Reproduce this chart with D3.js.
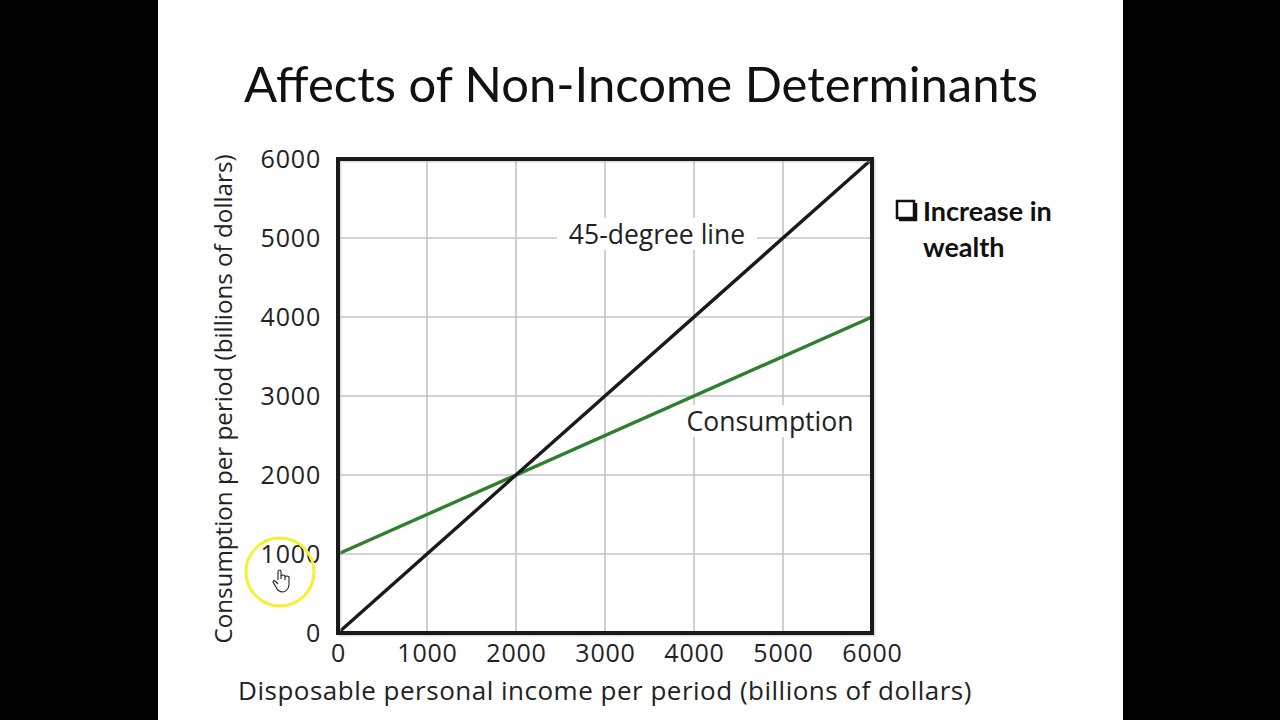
<!DOCTYPE html>
<html>
<head>
<meta charset="utf-8">
<script src="https://cdn.jsdelivr.net/npm/d3@7"></script>
<style>
  html, body { margin: 0; padding: 0; background: #000; }
  svg { display: block; }
</style>
</head>
<body>
<svg id="slide"></svg>
<script>
// data
var titleText = "Affects of Non-Income Determinants";
var tickValues = [0, 1000, 2000, 3000, 4000, 5000, 6000];
var incomeX = [0, 6000];
var line45 = [0, 6000];
var consumption = [1000, 4000];
var bulletLines = ["Increase in", "wealth"];

var width = 1280, height = 720;
var svg = d3.select("#slide").attr("width", width).attr("height", height);

// slide background
svg.append("rect").attr("x", 0).attr("y", 0).attr("width", width).attr("height", height).attr("fill", "#000");
svg.append("rect").attr("x", 158).attr("y", 0).attr("width", 965).attr("height", height).attr("fill", "#fff");

// title
svg.append("text")
    .attr("x", 641).attr("y", 102)
    .attr("text-anchor", "middle")
    .attr("font-family", "Lato, 'Open Sans', sans-serif")
    .attr("font-size", 49)
    .attr("fill", "#111")
    .text(titleText);

// plot area
var pLeft = 338, pRight = 872, pTop = 159, pBottom = 633;
var xScale = d3.scaleLinear().domain([0, 6000]).range([pLeft, pRight]);
var yScale = d3.scaleLinear().domain([0, 6000]).range([pBottom, pTop]);

var chart = svg.append("g");

// grid
chart.append("g").selectAll("line").data(tickValues.slice(1, -1)).enter()
    .append("line")
    .attr("x1", d => xScale(d)).attr("x2", d => xScale(d))
    .attr("y1", pTop).attr("y2", pBottom)
    .attr("stroke", "#c4c4c4").attr("stroke-width", 1.6);
chart.append("g").selectAll("line").data(tickValues.slice(1, -1)).enter()
    .append("line")
    .attr("y1", d => yScale(d)).attr("y2", d => yScale(d))
    .attr("x1", pLeft).attr("x2", pRight)
    .attr("stroke", "#c4c4c4").attr("stroke-width", 1.6);

// lines
var line = d3.line()
    .x((d, i) => xScale(incomeX[i]))
    .y(d => yScale(d));

chart.append("path").datum(consumption)
    .attr("d", line).attr("fill", "none")
    .attr("stroke", "#2f7f2f").attr("stroke-width", 3.4);
chart.append("path").datum(line45)
    .attr("d", line).attr("fill", "none")
    .attr("stroke", "#1a1a1a").attr("stroke-width", 3.4);

// frame with soft shadow
chart.append("rect")
    .attr("x", pLeft + 2).attr("y", pTop + 2)
    .attr("width", pRight - pLeft).attr("height", pBottom - pTop)
    .attr("fill", "none").attr("stroke", "#bbb").attr("stroke-width", 3).attr("opacity", 0.5);
chart.append("rect")
    .attr("x", pLeft).attr("y", pTop)
    .attr("width", pRight - pLeft).attr("height", pBottom - pTop)
    .attr("fill", "none").attr("stroke", "#1a1a1a").attr("stroke-width", 4);

// line labels with white boxes
function lineLabel(txt, cx, cy, w) {
  chart.append("rect")
      .attr("x", cx - w / 2).attr("y", cy - 17)
      .attr("width", w).attr("height", 32)
      .attr("fill", "#fff");
  chart.append("text")
      .attr("x", cx).attr("y", cy + 9)
      .attr("text-anchor", "middle")
      .attr("font-family", "'Open Sans', sans-serif")
      .attr("font-size", 26.5)
      .attr("fill", "#222")
      .text(txt);
}
lineLabel("45-degree line", 657, 235, 200);
lineLabel("Consumption", 770, 422, 186);

// axes
var axisFont = "'Open Sans', sans-serif";
var xAxis = d3.axisBottom(xScale).tickValues(tickValues).tickFormat(d3.format("d")).tickSize(0).tickPadding(11);
var yAxis = d3.axisLeft(yScale).tickValues(tickValues).tickFormat(d3.format("d")).tickSize(0).tickPadding(17);

var gx = svg.append("g").attr("transform", "translate(0," + pBottom + ")").call(xAxis);
var gy = svg.append("g").attr("transform", "translate(" + pLeft + ",0)").call(yAxis);
[gx, gy].forEach(g => {
  g.select(".domain").remove();
  g.selectAll("text")
      .attr("font-family", axisFont)
      .attr("font-size", 25)
      .attr("letter-spacing", 0.8)
      .attr("fill", "#222");
});

svg.append("text")
    .attr("x", 605).attr("y", 700)
    .attr("text-anchor", "middle")
    .attr("font-family", axisFont).attr("font-size", 26).attr("letter-spacing", 0.5).attr("fill", "#222")
    .text("Disposable personal income per period (billions of dollars)");
svg.append("text")
    .attr("transform", "translate(232,399) rotate(-90)")
    .attr("text-anchor", "middle")
    .attr("font-family", axisFont).attr("font-size", 24.2).attr("fill", "#222")
    .text("Consumption per period (billions of dollars)");

// bullet
var bullet = svg.append("g").attr("transform", "translate(895,199)");
bullet.append("rect").attr("x", 2).attr("y", 2).attr("width", 17).attr("height", 17)
    .attr("fill", "#fff").attr("stroke", "#111").attr("stroke-width", 2.5);
bullet.append("path").attr("d", "M4,21 L21,21 L21,4")
    .attr("fill", "none").attr("stroke", "#111").attr("stroke-width", 2.5);
bullet.selectAll("text.b").data(bulletLines).enter()
    .append("text")
    .attr("class", "b")
    .attr("x", 28).attr("y", (d, i) => 22 + i * 36)
    .attr("font-family", "Lato, 'Open Sans', sans-serif")
    .attr("font-weight", "bold")
    .attr("font-size", 27)
    .attr("fill", "#111")
    .text(d => d);

// cursor highlight
svg.append("circle").attr("cx", 280).attr("cy", 572).attr("r", 34)
    .attr("fill", "none").attr("stroke", "#f2f230").attr("stroke-width", 3);
svg.append("path")
    .attr("transform", "translate(276,571)")
    .attr("d", "M2,0 L2,9 M2,0 Q4,-2 5,0 L5,8 M5,5 Q7,3 9,5 L9,9 M9,6 Q11,4 13,6 L13,14 Q12,20 7,21 Q2,21 0,16 L-3,11 Q-3,9 -1,10 L2,13")
    .attr("fill", "#fff").attr("stroke", "#222").attr("stroke-width", 1.1);
</script>
</body>
</html>
